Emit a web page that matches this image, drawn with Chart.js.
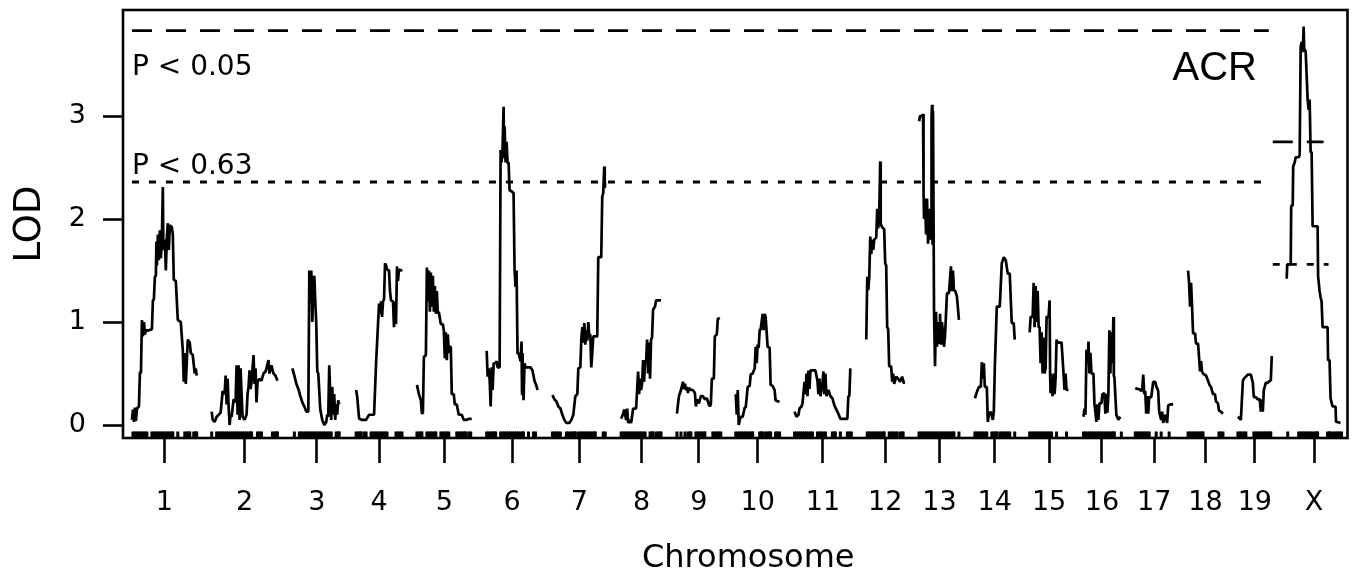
<!DOCTYPE html>
<html><head><meta charset="utf-8">
<script src="https://cdn.jsdelivr.net/npm/chart.js@4.4.1/dist/chart.umd.min.js"></script>
<style>html,body{margin:0;padding:0;background:#fff;}</style>
</head><body>
<canvas id="c" width="1357" height="576"></canvas>
<script>
// ---------- DATA ----------
const chromosomes = ['1','2','3','4','5','6','7','8','9','10','11','12','13','14','15','16','17','18','19','X'];
const chromLengths = [65,66,49,46,55,51,54,41,44,44,57,38,41,40,39,37,38,35,34,55]; // cM
const chromGap = 15;
const xRange = [-9, 1220];
const yRange = [-0.126, 4.03];
const yTicks = [0, 1, 2, 3];
const xAxisTitle = 'Chromosome';
const yAxisTitle = 'LOD';
const thresholdLabels = ['P < 0.05', 'P < 0.63'];
const autosomeThresholds = [3.83, 2.36];
const xChromThresholds = [2.75, 1.56];
const autosomeThresholdSpan = [0, 1141];
const xChromThresholdSpan05 = [1145, 1196];
const xChromThresholdSpan63 = [1145, 1201];
const traitName = 'ACR';

// LOD profiles: [position within chromosome (cM), LOD]
const lodChr1 = [[0,0.05],[1,0.15],[2,0.03],[3,0.17],[4,0.04],[5,0.16],[6,0.17],[7,0.18],[8,0.52],[9,0.5],[10,1.02],[11,0.86],[12,1.0],[13,0.88],[14,0.92],[17,0.92],[20,0.93],[21,1.21],[22,1.22],[23,1.44],[24,1.45],[24.5,1.78],[25,1.55],[26,1.85],[27,1.6],[28,1.89],[29,1.62],[30,1.8],[31,2.31],[31.5,1.7],[33,1.8],[34,1.5],[35,1.82],[36,1.96],[37,1.7],[38,1.94],[40,1.92],[41,1.85],[42,1.41],[44,1.40],[46,1.02],[49,1.0],[51,0.73],[52,0.42],[53,0.7],[54,0.40],[55,0.6],[56,0.83],[58,0.80],[59,0.7],[61,0.68],[63,0.5],[64,0.55],[65,0.48]];
const lodChr2 = [[0,0.13],[1,0.05],[3,0.03],[5,0.08],[7,0.1],[9,0.12],[11,0.33],[13,0.3],[14,0.48],[15,0.2],[16,0.45],[17,0.18],[18,0.0],[19,0.1],[20,0.08],[22,0.25],[24,0.22],[25,0.58],[26,0.1],[27,0.58],[28,0.05],[29,0.55],[30,0.3],[31,0.08],[33,0.05],[35,0.1],[36,0.3],[37,0.37],[38,0.53],[39,0.35],[40,0.42],[42,0.68],[43,0.4],[44,0.55],[45,0.22],[46,0.42],[48,0.45],[50,0.43],[52,0.5],[54,0.52],[55,0.55],[57,0.63],[58,0.5],[60,0.58],[62,0.5],[64,0.48],[66,0.43]];
const lodChr3 = [[0,0.55],[2,0.48],[4,0.4],[6,0.35],[8,0.28],[10,0.22],[12,0.18],[14,0.13],[16,0.13],[17,1.50],[18,1.2],[19,1.5],[20,1.0],[21,1.35],[22,1.45],[23,1.2],[24,0.98],[25,0.52],[26,0.5],[28,0.15],[30,0.05],[32,0.0],[34,0.03],[35,0.1],[36,0.08],[37,0.58],[38,0.3],[39,0.05],[40,0.37],[41,0.1],[42,0.3],[43,0.05],[44,0.2],[45,0.1],[46,0.24],[47,0.2]];
const lodChr4 = [[0,0.34],[1,0.28],[3,0.06],[6,0.05],[10,0.05],[13,0.1],[18,0.1],[20,0.6],[23,1.18],[24,1.08],[25,1.2],[26,1.05],[27,1.2],[28,1.22],[29,1.57],[30,1.55],[31,1.51],[33,1.5],[34,1.3],[35,1.21],[37,1.2],[38,0.95],[39,1.2],[40,0.98],[41,1.54],[42,1.4],[43,1.51],[45,1.5],[46,1.51]];
const lodChr5 = [[0,0.39],[2,0.3],[4,0.24],[5,0.11],[6,0.12],[7,0.66],[9,0.68],[10,1.53],[11,1.2],[12,1.5],[13,1.1],[14,1.48],[15,1.15],[16,1.45],[17,1.1],[18,1.35],[19,1.08],[20,1.3],[21,1.08],[22,1.1],[24,0.98],[26,0.98],[27,0.92],[28,0.65],[29,0.9],[30,0.63],[31,0.88],[32,0.7],[33,0.76],[34,0.76],[35,0.3],[37,0.3],[38,0.2],[40,0.2],[42,0.1],[45,0.1],[47,0.05],[50,0.05],[52,0.06],[55,0.06]];
const lodChr6 = [[0,0.72],[1,0.47],[2,0.55],[3,0.44],[4,0.18],[5,0.56],[6,0.34],[7,0.6],[9,0.6],[10,0.62],[11,0.56],[13,0.56],[14,2.67],[15,2.55],[16,2.7],[17,3.09],[17.5,2.6],[18,2.9],[19,2.55],[20,2.75],[21,2.54],[22,2.55],[23,2.28],[25,2.27],[27,2.25],[28,1.51],[29,1.34],[30,1.5],[31,0.69],[32,0.7],[34,0.62],[35,0.81],[35.5,0.3],[36,0.7],[37,0.24],[38,0.6],[39,0.56],[42,0.56],[44,0.56],[46,0.53],[48,0.43],[50,0.38],[51,0.34]];
const lodChr7 = [[0,0.29],[2,0.25],[4,0.23],[6,0.18],[8,0.16],[10,0.1],[12,0.05],[14,0.02],[17,0.02],[19,0.05],[21,0.1],[23,0.28],[25,0.3],[26,0.55],[28,0.56],[29,0.83],[30,0.95],[31,0.8],[32,0.99],[33,0.78],[34,0.92],[35,0.82],[36,1.0],[37,0.86],[38,0.88],[39,0.56],[40,0.7],[41,0.86],[45,0.86],[46,1.63],[49,1.63],[50,2.22],[51,2.25],[52,2.51],[52.5,2.3],[53,2.35]];
const lodChr8 = [[0,0.06],[2,0.11],[3,0.15],[5,0.05],[6,0.16],[7,0.02],[9,0.05],[10,0.02],[12,0.16],[15,0.16],[17,0.52],[18,0.3],[19,0.45],[20,0.34],[21,0.4],[22,0.63],[23,0.42],[24,0.63],[25,0.6],[26,0.83],[27,0.5],[28,0.8],[29,0.45],[30,0.83],[31,0.85],[32,1.12],[34,1.15],[35,1.21],[38,1.21],[40,1.21]];
const lodChr9 = [[0,0.11],[1,0.2],[2,0.28],[4,0.34],[6,0.42],[7,0.35],[8,0.4],[9,0.34],[10,0.37],[11,0.31],[12,0.36],[14,0.34],[16,0.34],[18,0.31],[19,0.18],[20,0.25],[22,0.21],[24,0.28],[26,0.28],[28,0.25],[30,0.26],[32,0.2],[33,0.18],[34,0.2],[35,0.45],[37,0.45],[38,0.86],[40,0.88],[41,1.03],[43,1.04]];
const lodChr10 = [[0,0.3],[1,0.1],[2,0.34],[3,0.0],[4,0.05],[5,0.08],[7,0.08],[9,0.17],[10,0.17],[12,0.37],[14,0.38],[15,0.49],[17,0.5],[19,0.55],[20,0.76],[21,0.6],[22,0.78],[23,0.75],[24,0.92],[25,0.93],[27,1.08],[28,0.92],[29,1.08],[30,1.05],[32,0.76],[34,0.75],[35,0.39],[37,0.38],[39,0.34],[40,0.24],[42,0.23],[44,0.23]];
const lodChr11 = [[0,0.13],[2,0.08],[4,0.1],[5,0.16],[7,0.18],[8,0.21],[10,0.42],[11,0.3],[12,0.5],[13,0.28],[14,0.53],[15,0.35],[16,0.53],[19,0.53],[21,0.53],[23,0.43],[24,0.3],[25,0.45],[26,0.28],[28,0.4],[29,0.52],[30,0.3],[31,0.5],[32,0.28],[34,0.34],[36,0.28],[38,0.26],[40,0.19],[42,0.15],[44,0.11],[46,0.06],[50,0.06],[53,0.06],[54,0.28],[55,0.28],[56,0.55]];
const lodChr12 = [[0,0.83],[1,1.44],[2,1.31],[3,1.44],[4,1.83],[5,1.66],[6,1.8],[7,1.7],[8,1.8],[10,1.82],[11,2.1],[12,1.91],[13,2.05],[14,2.56],[14.5,1.95],[16,1.92],[18,1.9],[19,1.57],[20,1.55],[21,0.95],[22,0.93],[23,0.57],[25,0.57],[26,0.42],[27,0.5],[28,0.4],[30,0.47],[32,0.45],[34,0.42],[36,0.47],[38,0.4]];
const lodChr13 = [[0,2.95],[1,3.0],[3,3.0],[4,3.02],[4.5,2.25],[5,2.0],[6,2.2],[7,1.85],[8,2.2],[9,1.76],[10,2.1],[11,1.8],[12,2.1],[12.5,3.0],[13,3.11],[13.5,1.75],[14,3.05],[15,1.12],[16,0.57],[17,1.1],[18,0.76],[19,1.0],[20,0.8],[21,1.08],[22,0.78],[23,1.0],[25,0.76],[26,0.86],[28,1.28],[30,1.28],[32,1.54],[33,1.3],[34,1.5],[35,1.3],[36,1.31],[38,1.25],[40,1.02]];
const lodChr14 = [[0,0.26],[2,0.32],[4,0.37],[6,0.37],[7,0.61],[8,0.45],[9,0.6],[10,0.37],[12,0.37],[13,0.03],[14,0.1],[16,0.13],[18,0.05],[19,0.13],[20,0.55],[22,1.15],[25,1.15],[27,1.57],[29,1.63],[31,1.6],[33,1.47],[35,1.47],[37,0.99],[39,0.99],[40,0.83]];
const lodChr15 = [[0,0.9],[1,1.05],[3,1.05],[4,1.38],[5,0.95],[6,1.35],[7,1.0],[8,1.3],[9,0.95],[10,0.95],[11,0.6],[12,0.9],[13,0.5],[14,0.85],[15,0.5],[16,0.55],[17,1.05],[19,1.05],[20,1.21],[20.5,0.5],[21,0.31],[22,0.45],[23,0.28],[24,0.5],[25,0.3],[26,0.45],[27,0.83],[28,0.8],[30,0.8],[32,0.8],[34,0.5],[35,0.34],[36,0.5],[37,0.34],[39,0.34]];
const lodChr16 = [[0,0.08],[1,0.16],[2,0.1],[3,0.73],[4,0.6],[5,0.81],[6,0.5],[7,0.7],[8,0.5],[10,0.5],[11,0.21],[13,0.03],[14,0.2],[15,0.05],[16,0.21],[18,0.21],[19,0.3],[21,0.31],[22,0.11],[23,0.3],[24,0.12],[25,0.3],[26,0.92],[27,0.5],[28,0.9],[29,0.6],[30,1.05],[30.5,0.47],[31,0.47],[33,0.1],[35,0.05],[37,0.08]];
const lodChr17 = [[0,0.36],[2,0.35],[4,0.35],[6,0.33],[7,0.35],[8,0.49],[9,0.3],[10,0.33],[11,0.11],[12,0.28],[13,0.11],[14,0.27],[16,0.27],[18,0.42],[20,0.42],[21,0.38],[23,0.33],[24,0.13],[26,0.05],[27,0.13],[28,0.02],[30,0.1],[32,0.02],[33,0.19],[35,0.2],[37,0.2],[38,0.2]];
const lodChr18 = [[0,1.50],[1,1.38],[2,1.15],[3,1.38],[4,1.15],[5,0.89],[7,0.89],[8,0.79],[10,0.79],[11,0.66],[12,0.52],[13,0.62],[14,0.52],[15,0.5],[18,0.48],[20,0.43],[22,0.38],[23,0.37],[25,0.3],[27,0.3],[28,0.23],[30,0.21],[31,0.14],[33,0.13],[35,0.11]];
const lodChr19 = [[0,0.08],[1,0.07],[3,0.05],[5,0.43],[6,0.45],[8,0.47],[10,0.49],[13,0.49],[15,0.41],[16,0.27],[18,0.27],[20,0.25],[22,0.25],[23,0.13],[24,0.25],[25,0.13],[26,0.34],[28,0.41],[30,0.41],[32,0.43],[33,0.43],[34,0.67]];
const lodChrX = [[0,1.42],[0.5,1.56],[2,1.56],[4,1.56],[4.5,2.13],[6,2.13],[6.5,2.51],[8,2.55],[9,2.6],[12,2.6],[13,2.62],[14,3.67],[15,3.72],[16,3.62],[17,3.87],[17.5,3.65],[19,3.63],[21,3.16],[22,3.06],[23,3.16],[24,2.65],[25,2.65],[26,1.93],[28,1.93],[31,1.93],[31.5,1.44],[32,1.44],[33,1.3],[34,1.24],[35,1.2],[36,0.95],[38,0.95],[41,0.95],[41.5,0.63],[43,0.63],[44,0.26],[46,0.18],[49,0.18],[49.5,0.03],[51,0.03],[54,0.02]];

// marker positions (cM within chromosome)
const markersChr1 = [1,3,5,7,9,11,13,15,20,22,24,26,28,30,32,34,36,38,40,41,46,53,55,57,58,62,64,65];
const markersChr2 = [0,5,7,9,11,13,15,17,19,21,23,25,27,29,31,33,35,37,39,40,46,48,50,61,63,65,66];
const markersChr3 = [2,7,9,11,13,15,17,19,21,23,25,27,29,31,33,35,37,39,44,46,47];
const markersChr4 = [0,2,4,5,8,10,15,17,19,21,23,25,27,29,31,40,42,44,46];
const markersChr5 = [0,2,4,5,10,12,14,16,18,19,24,26,28,30,32,40,42,44,46,48,49,52,54];
const markersChr6 = [0,2,4,6,8,9,14,16,18,20,22,24,26,28,30,32,34,36,37,42,47,49];
const markersChr7 = [0,2,4,6,8,14,16,18,20,22,23,26,28,30,32,34,36,38,40,42,43,51,53];
const markersChr8 = [0,2,4,6,8,10,12,14,16,18,20,22,24,29,31,32,35,37,39,40];
const markersChr9 = [0,4,8,11,13,14,19,21,23,25,27,28,36,38,40,42,44];
const markersChr10 = [0,2,4,6,8,10,12,14,16,17,24,26,27,30,32,34,35,40,42,44];
const markersChr11 = [0,2,4,6,8,10,12,14,16,18,23,25,27,29,31,38,40,41,46,53,55,57];
const markersChr12 = [1,3,5,7,9,11,13,15,17,18,23,25,27,29,31,34,36,37];
const markersChr13 = [0,2,4,6,8,10,12,14,16,18,20,22,24,26,28,30,32,34,35,40];
const markersChr14 = [0,2,4,6,8,10,12,17,19,21,22,25,27,29,31,33,35,40];
const markersChr15 = [0,2,4,6,8,10,12,14,16,18,20,22,27,37];
const markersChr16 = [0,2,4,6,8,10,12,14,16,18,20,22,24,26,28,30,31,38];
const markersChr17 = [0,2,4,6,8,10,12,14,21,26,34];
const markersChr18 = [0,2,4,6,8,10,12,14,15,31,33,35];
const markersChr19 = [0,2,4,6,8,16,18,20,22,24,26,28,30,32,33];
const markersChrX = [1,12,14,16,18,20,22,24,26,28,30,31,41,43,44,47,49,51,53,55];

const lodByChrom = [lodChr1,lodChr2,lodChr3,lodChr4,lodChr5,lodChr6,lodChr7,lodChr8,lodChr9,lodChr10,lodChr11,lodChr12,lodChr13,lodChr14,lodChr15,lodChr16,lodChr17,lodChr18,lodChr19,lodChrX];
const markersByChrom = [markersChr1,markersChr2,markersChr3,markersChr4,markersChr5,markersChr6,markersChr7,markersChr8,markersChr9,markersChr10,markersChr11,markersChr12,markersChr13,markersChr14,markersChr15,markersChr16,markersChr17,markersChr18,markersChr19,markersChrX];

// ---------- BUILD ----------
const chromStart = [];
let run = 0;
for (let i = 0; i < chromLengths.length; i++) { chromStart.push(run); run += chromLengths[i] + chromGap; }
const chromMid = chromStart.map((s, i) => s + chromLengths[i] / 2);

const datasets = [];
lodByChrom.forEach((pts, i) => {
  datasets.push({
    type: 'line',
    data: pts.map(p => ({ x: chromStart[i] + p[0], y: p[1] })),
    borderColor: '#000', borderWidth: 2.7, pointRadius: 0, tension: 0, fill: false,
    borderJoinStyle: 'bevel', borderCapStyle: 'butt'
  });
});
function segment(span, value, dash) {
  return { type: 'line', data: [{ x: span[0], y: value }, { x: span[1], y: value }],
    borderColor: '#000', borderWidth: 2.8, borderDash: dash, pointRadius: 0, fill: false, borderCapStyle: 'butt' };
}
datasets.push(segment(autosomeThresholdSpan, autosomeThresholds[0], [20, 14]));
datasets.push(segment(autosomeThresholdSpan, autosomeThresholds[1], [7, 10]));
datasets.push(segment(xChromThresholdSpan05, xChromThresholds[0], [20, 14]));
datasets.push(segment(xChromThresholdSpan63, xChromThresholds[1], [7, 10]));

const rugData = [];
markersByChrom.forEach((m, i) => m.forEach(p => rugData.push({ x: chromStart[i] + p, y: yRange[0] })));
datasets.push({
  type: 'scatter', data: rugData, showLine: false,
  pointStyle: 'line', pointRotation: 90, pointRadius: 6.5,
  pointBorderColor: '#000', pointBorderWidth: 3, pointBackgroundColor: '#000',
  clip: 0
});

const framePlugin = {
  id: 'frameAndText',
  afterDatasetsDraw(chart) {
    const { ctx, chartArea: a } = chart;
    const ys = chart.scales.y;
    ctx.save();
    ctx.strokeStyle = '#000';
    ctx.lineWidth = 2.6;
    ctx.strokeRect(a.left, a.top, a.right - a.left, a.bottom - a.top);
    ctx.fillStyle = '#000';
    ctx.textAlign = 'left';
    ctx.textBaseline = 'alphabetic';
    ctx.font = '28px "DejaVu Sans"';
    ctx.fillText(thresholdLabels[0], a.left + 9, ys.getPixelForValue(autosomeThresholds[0]) + 44);
    ctx.fillText(thresholdLabels[1], a.left + 9, ys.getPixelForValue(autosomeThresholds[1]) - 8);
    ctx.font = '40px "Liberation Sans"';
    ctx.fillText(traitName, a.right - 175, a.top + 70);
    // x-axis title (slightly right of centre, as in the original figure)
    ctx.font = '32px "DejaVu Sans"';
    ctx.textAlign = 'center';
    ctx.textBaseline = 'middle';
    ctx.fillText(xAxisTitle, (a.left + a.right) / 2 + 13, chart.height - 17);
    ctx.restore();
  }
};

Chart.defaults.font.family = '"DejaVu Sans"';
Chart.defaults.color = '#000';

new Chart(document.getElementById('c'), {
  data: { datasets },
  options: {
    responsive: false, animation: false, events: [],
    layout: { padding: { left: 0, right: 5, top: 10, bottom: 0 } },
    plugins: { legend: { display: false }, tooltip: { enabled: false } },
    scales: {
      x: {
        type: 'linear', min: xRange[0], max: xRange[1],
        afterBuildTicks: s => { s.ticks = chromMid.map(v => ({ value: v })); },
        afterFit: s => { s.height = 138; s.paddingLeft = 0; s.paddingRight = 0; },
        ticks: { autoSkip: false, maxRotation: 0, minRotation: 0, padding: 24,
          font: { size: 27 }, color: '#000',
          callback: (v, i) => chromosomes[i] },
        grid: { drawOnChartArea: false, drawTicks: true, tickLength: 25, tickWidth: 2.6, tickColor: '#000' },
        border: { display: false },
        title: { display: false }
      },
      y: {
        type: 'linear', min: yRange[0], max: yRange[1],
        afterBuildTicks: s => { s.ticks = yTicks.map(v => ({ value: v })); },
        afterFit: s => { s.width = 123; s.paddingTop = 0; s.paddingBottom = 0; },
        ticks: { padding: 17, font: { size: 27 }, color: '#000', callback: v => String(v) },
        grid: { drawOnChartArea: false, drawTicks: true, tickLength: 20, tickWidth: 2.6, tickColor: '#000' },
        border: { display: false },
        title: { display: true, text: yAxisTitle, color: '#000',
          font: { size: 37, lineHeight: 1 }, padding: { top: 12, bottom: 0 } }
      }
    }
  },
  plugins: [framePlugin]
});
</script>
</body></html>
